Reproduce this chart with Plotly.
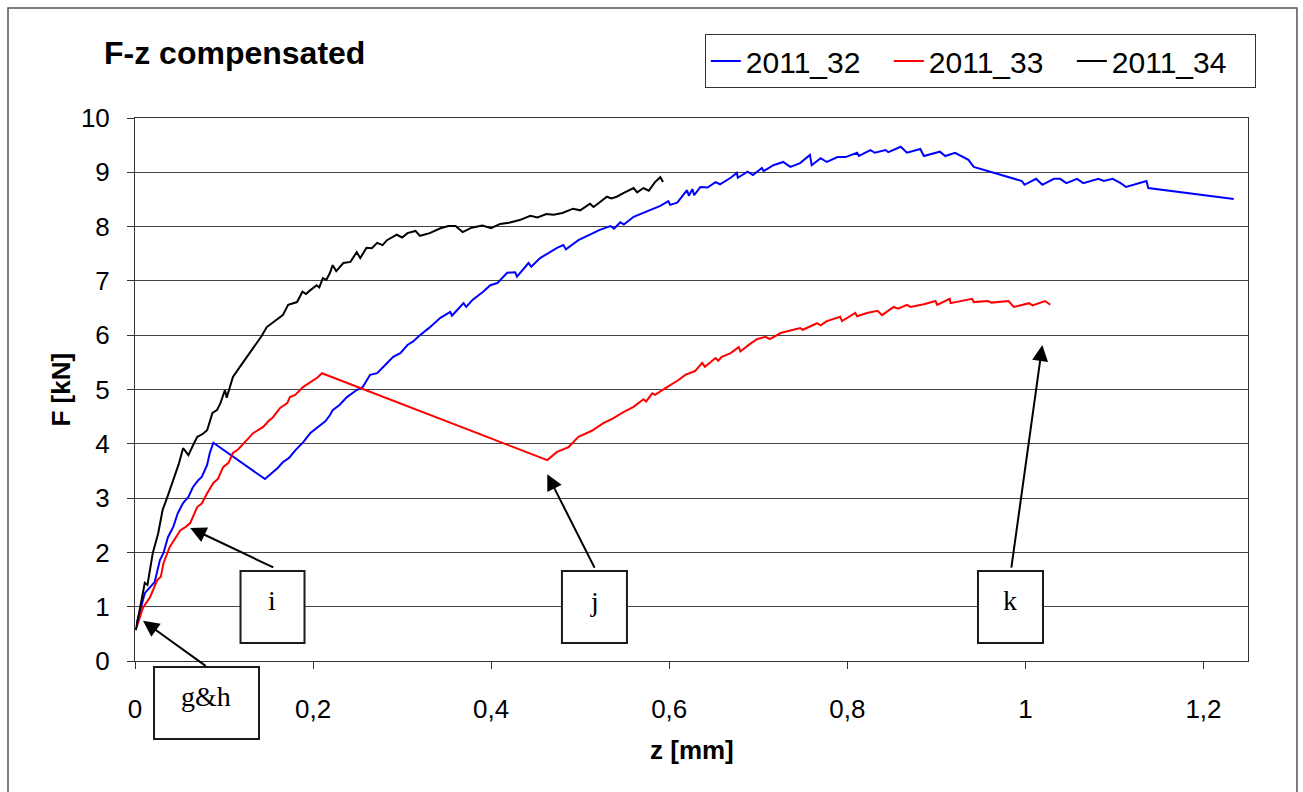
import plotly.graph_objects as go

# Series data: displacement z [mm] and force F [kN]
z_32 = [0.002, 0.007, 0.011, 0.017, 0.022, 0.028, 0.032, 0.037, 0.043, 0.048, 0.054, 0.060, 0.065,
        0.071, 0.075, 0.081, 0.084, 0.088, 0.146, 0.155, 0.160, 0.166, 0.173, 0.180, 0.189, 0.197,
        0.208, 0.214, 0.219, 0.222, 0.230, 0.238, 0.249, 0.256, 0.264, 0.272, 0.281, 0.290, 0.298,
        0.306, 0.312, 0.320, 0.330, 0.343, 0.354, 0.356, 0.365, 0.369, 0.372, 0.379, 0.391, 0.399,
        0.407, 0.418, 0.427, 0.429, 0.442, 0.445, 0.455, 0.465, 0.474, 0.481, 0.484, 0.498, 0.510,
        0.522, 0.534, 0.538, 0.545, 0.549, 0.560, 0.570, 0.579, 0.590, 0.599, 0.601, 0.609, 0.616,
        0.620, 0.622, 0.626, 0.628, 0.635, 0.643, 0.652, 0.657, 0.669, 0.676, 0.677, 0.688, 0.694,
        0.704, 0.706, 0.717, 0.728, 0.736, 0.747, 0.758, 0.760, 0.770, 0.777, 0.789, 0.798, 0.811,
        0.813, 0.826, 0.831, 0.843, 0.846, 0.860, 0.867, 0.882, 0.886, 0.904, 0.910, 0.921, 0.936,
        0.942, 0.996, 0.999, 1.012, 1.019, 1.032, 1.039, 1.046, 1.058, 1.065, 1.082, 1.088, 1.098,
        1.107, 1.113, 1.136, 1.138, 1.234]
F_32 = [0.70, 1.00, 1.25, 1.36, 1.45, 1.86, 1.99, 2.28, 2.47, 2.72, 2.91, 3.02, 3.20,
        3.33, 3.39, 3.61, 3.83, 4.02, 3.35, 3.48, 3.55, 3.66, 3.74, 3.88, 4.03, 4.20,
        4.35, 4.42, 4.53, 4.62, 4.72, 4.86, 4.99, 5.05, 5.27, 5.30, 5.45, 5.60, 5.67,
        5.82, 5.88, 6.00, 6.13, 6.32, 6.43, 6.36, 6.52, 6.59, 6.52, 6.65, 6.80, 6.92,
        6.96, 7.15, 7.16, 7.08, 7.33, 7.26, 7.42, 7.52, 7.61, 7.66, 7.58, 7.75, 7.85,
        7.94, 8.01, 7.96, 8.08, 8.04, 8.18, 8.25, 8.31, 8.38, 8.47, 8.40, 8.44, 8.58,
        8.67, 8.57, 8.69, 8.58, 8.73, 8.72, 8.82, 8.78, 8.90, 8.99, 8.90, 9.01, 8.95,
        9.08, 9.02, 9.13, 9.19, 9.10, 9.17, 9.32, 9.13, 9.26, 9.19, 9.28, 9.28, 9.36,
        9.30, 9.41, 9.36, 9.41, 9.37, 9.47, 9.36, 9.43, 9.30, 9.38, 9.30, 9.36, 9.23,
        9.10, 8.84, 8.77, 8.88, 8.77, 8.88, 8.88, 8.80, 8.88, 8.80, 8.88, 8.84, 8.88,
        8.80, 8.73, 8.84, 8.71, 8.51]

z_33 = [0.002, 0.009, 0.017, 0.025, 0.029, 0.032, 0.039, 0.045, 0.051, 0.057, 0.062, 0.070, 0.075,
        0.081, 0.088, 0.093, 0.099, 0.105, 0.110, 0.116, 0.122, 0.128, 0.133, 0.140, 0.144, 0.150,
        0.155, 0.163, 0.171, 0.174, 0.180, 0.189, 0.195, 0.200, 0.205, 0.210, 0.463, 0.474, 0.487,
        0.498, 0.505, 0.513, 0.526, 0.537, 0.548, 0.560, 0.571, 0.574, 0.581, 0.584, 0.598, 0.610,
        0.618, 0.629, 0.637, 0.640, 0.652, 0.655, 0.659, 0.669, 0.678, 0.680, 0.690, 0.699, 0.708,
        0.713, 0.725, 0.735, 0.747, 0.750, 0.766, 0.770, 0.777, 0.792, 0.794, 0.809, 0.811, 0.822,
        0.834, 0.839, 0.852, 0.857, 0.867, 0.871, 0.886, 0.899, 0.901, 0.915, 0.916, 0.940, 0.942,
        0.958, 0.962, 0.981, 0.987, 1.004, 1.008, 1.022, 1.028]
F_33 = [0.63, 0.98, 1.18, 1.49, 1.55, 1.80, 2.10, 2.25, 2.41, 2.47, 2.54, 2.84, 2.90,
        3.09, 3.28, 3.35, 3.57, 3.65, 3.83, 3.90, 4.01, 4.12, 4.20, 4.27, 4.31, 4.42,
        4.49, 4.66, 4.75, 4.86, 4.90, 5.05, 5.12, 5.17, 5.22, 5.30, 3.70, 3.85, 3.94,
        4.13, 4.18, 4.24, 4.38, 4.47, 4.58, 4.68, 4.82, 4.78, 4.93, 4.90, 5.05, 5.17,
        5.27, 5.34, 5.49, 5.42, 5.58, 5.53, 5.60, 5.67, 5.78, 5.70, 5.83, 5.93, 5.97,
        5.93, 6.04, 6.08, 6.13, 6.10, 6.22, 6.18, 6.26, 6.34, 6.26, 6.41, 6.35, 6.41,
        6.45, 6.37, 6.52, 6.49, 6.56, 6.52, 6.57, 6.63, 6.56, 6.67, 6.59, 6.67, 6.61,
        6.63, 6.60, 6.63, 6.52, 6.59, 6.55, 6.63, 6.56]

z_34 = [0.001, 0.006, 0.011, 0.014, 0.020, 0.026, 0.031, 0.037, 0.043, 0.049, 0.054, 0.060, 0.066,
        0.070, 0.076, 0.081, 0.087, 0.092, 0.096, 0.101, 0.103, 0.110, 0.118, 0.126, 0.131, 0.137,
        0.142, 0.148, 0.155, 0.160, 0.166, 0.172, 0.177, 0.182, 0.188, 0.192, 0.197, 0.204, 0.207,
        0.211, 0.215, 0.219, 0.222, 0.226, 0.234, 0.242, 0.249, 0.253, 0.260, 0.266, 0.272, 0.278,
        0.283, 0.289, 0.294, 0.300, 0.306, 0.315, 0.320, 0.331, 0.343, 0.352, 0.360, 0.368, 0.378,
        0.390, 0.400, 0.410, 0.420, 0.432, 0.444, 0.452, 0.462, 0.470, 0.480, 0.492, 0.500, 0.511,
        0.515, 0.522, 0.530, 0.535, 0.541, 0.549, 0.560, 0.564, 0.571, 0.577, 0.584, 0.590, 0.593]
F_34 = [0.57, 1.00, 1.44, 1.40, 1.99, 2.35, 2.78, 3.05, 3.33, 3.62, 3.92, 3.79, 4.00,
        4.13, 4.18, 4.25, 4.57, 4.62, 4.75, 4.99, 4.85, 5.23, 5.42, 5.60, 5.72, 5.86,
        5.98, 6.15, 6.24, 6.30, 6.37, 6.56, 6.58, 6.61, 6.80, 6.76, 6.83, 6.92, 6.88,
        7.05, 7.02, 7.15, 7.29, 7.18, 7.33, 7.35, 7.53, 7.42, 7.61, 7.60, 7.70, 7.66,
        7.75, 7.80, 7.85, 7.80, 7.88, 7.92, 7.83, 7.88, 7.97, 8.01, 8.01, 7.90, 7.98,
        8.02, 7.97, 8.05, 8.07, 8.12, 8.20, 8.17, 8.23, 8.22, 8.25, 8.33, 8.30, 8.42,
        8.36, 8.45, 8.55, 8.52, 8.55, 8.62, 8.71, 8.63, 8.71, 8.66, 8.82, 8.91, 8.82]

series_names = ["2011_32", "2011_33", "2011_34"]
series_colors = ["#0000ff", "#ff0000", "#000000"]

x_ticks = [0, 0.2, 0.4, 0.6, 0.8, 1.0, 1.2]
y_ticks = list(range(0, 11))

# Callout labels: (text, arrow head z, arrow head F, arrow tail z, arrow tail F)
callouts = [
    ("g&h", 0.009, 0.74, 0.081, -0.11),
    ("i", 0.062, 2.45, 0.157, 1.71),
    ("j", 0.463, 3.44, 0.517, 1.69),
    ("k", 1.019, 5.82, 0.984, 1.69),
]
# Label boxes in paper coordinates: x0, x1, y0, y1, text x, text y
label_boxes = [
    (0.0171, 0.1114, -0.1436, -0.0110, 0.0638, -0.066),
    (0.0948, 0.1523, 0.0331, 0.1657, 0.1235, 0.112),
    (0.3836, 0.4420, 0.0331, 0.1657, 0.4128, 0.110),
    (0.7574, 0.8158, 0.0331, 0.1657, 0.7866, 0.112),
]

SANS = "Liberation Sans, Arial, sans-serif"
SERIF = "Liberation Serif, Times New Roman, serif"

fig = go.Figure()
for name, zs, fs, col in zip(series_names, [z_32, z_33, z_34], [F_32, F_33, F_34], series_colors):
    fig.add_trace(go.Scatter(x=zs, y=fs, mode="lines", name=name,
                             line=dict(color=col, width=2)))

shapes = []
# outer chart frame
shapes.append(dict(type="rect", xref="paper", yref="paper", x0=-0.1141, x1=1.0440,
                   y0=-0.2500, y1=1.2026, line=dict(color="#555555", width=1.5),
                   fillcolor="rgba(0,0,0,0)", layer="below"))
for x0, x1, y0, y1, _, _ in label_boxes:
    shapes.append(dict(type="rect", xref="paper", yref="paper", x0=x0, x1=x1, y0=y0, y1=y1,
                       line=dict(color="#1a1a1a", width=2), fillcolor="white", layer="above"))

annotations = []
for (label, hx, hy, tx, ty), box in zip(callouts, label_boxes):
    annotations.append(dict(x=hx, y=hy, ax=tx, ay=ty, xref="x", yref="y", axref="x", ayref="y",
                            text="", showarrow=True, arrowhead=2, arrowsize=1.6, arrowwidth=2,
                            arrowcolor="black", standoff=0, startstandoff=0))
    annotations.append(dict(x=box[4], y=box[5], xref="paper", yref="paper", text=label,
                            showarrow=False, xanchor="center", yanchor="middle",
                            font=dict(family=SERIF, size=28, color="black")))

# chart title and axis titles
annotations.append(dict(x=-0.0297, y=(661 - 53) / 543, xref="paper", yref="paper",
                        text="<b>F-z compensated</b>", showarrow=False, xanchor="left",
                        yanchor="middle", font=dict(family=SANS, size=32, color="black")))
annotations.append(dict(x=(60 - 135) / 1113, y=0.5, xref="paper", yref="paper",
                        text="<b>F [kN]</b>", showarrow=False, textangle=-90,
                        xanchor="center", yanchor="middle",
                        font=dict(family=SANS, size=26, color="black")))
annotations.append(dict(x=(692 - 135) / 1113, y=(661 - 750) / 543, xref="paper", yref="paper",
                        text="<b>z [mm]</b>", showarrow=False, xanchor="center", yanchor="middle",
                        font=dict(family=SANS, size=26, color="black")))

fig.update_layout(
    width=1303, height=792,
    margin=dict(l=135, r=55, t=118, b=131, autoexpand=False),
    paper_bgcolor="white", plot_bgcolor="white",
    separators=", ",
    font=dict(family=SANS, color="black"),
    showlegend=True,
    legend=dict(orientation="h", x=0.512, y=(661 - 34) / 543, xanchor="left", yanchor="top",
                bordercolor="#333333", borderwidth=1, bgcolor="white",
                font=dict(family=SANS, size=30, color="black"),
                entrywidth=138, entrywidthmode="pixels", tracegroupgap=0),
    shapes=shapes,
    annotations=annotations,
)
fig.update_xaxes(range=[0, 1.25], tickvals=x_ticks, showgrid=False, zeroline=False,
                 showline=True, linecolor="#333333", linewidth=1, mirror=True,
                 ticks="outside", ticklen=7, tickcolor="#333333",
                 ticklabelstandoff=18, tickfont=dict(family=SANS, size=26, color="black"))
fig.update_yaxes(range=[0, 10], tickvals=y_ticks, showgrid=True, gridcolor="#444444",
                 gridwidth=1, zeroline=False,
                 showline=True, linecolor="#333333", linewidth=1, mirror=True,
                 ticks="outside", ticklen=7, tickcolor="#333333",
                 ticklabelstandoff=12, tickfont=dict(family=SANS, size=26, color="black"))

fig.write_html("out.html")
